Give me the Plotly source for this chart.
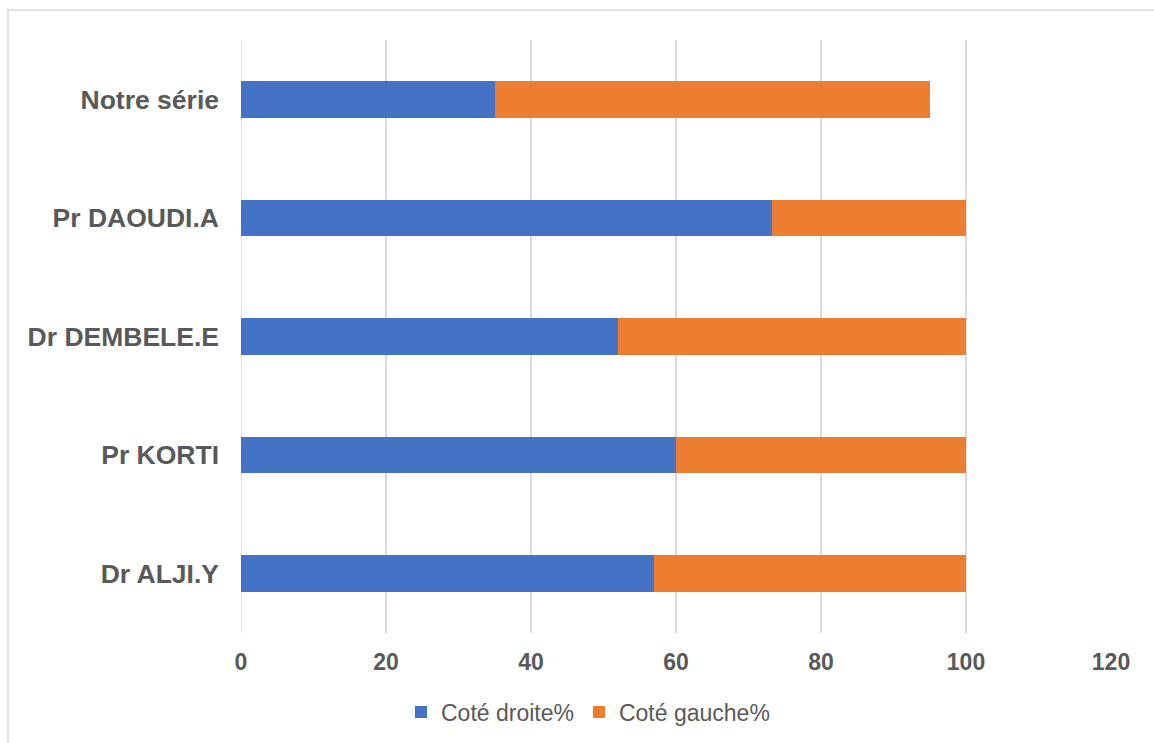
import plotly.graph_objects as go

categories = ["Notre série", "Pr DAOUDI.A", "Dr DEMBELE.E", "Pr KORTI", "Dr ALJI.Y"]
droite = [35, 73.3, 52, 60, 57]
gauche = [60, 26.7, 48, 40, 43]
x_ticks = [0, 20, 40, 60, 80, 100, 120]

BLUE = "#4472C4"
ORANGE = "#ED7D31"
TXT = "#595959"
GRID = "#D9D9D9"
FONT = "Arial, Liberation Sans, sans-serif"

fig = go.Figure()
fig.add_trace(go.Bar(y=categories, x=droite, orientation="h", name="Coté droite%",
                     marker=dict(color=BLUE, line=dict(width=0))))
fig.add_trace(go.Bar(y=categories, x=gauche, orientation="h", name="Coté gauche%",
                     marker=dict(color=ORANGE, line=dict(width=0))))

W, H = 1154, 743
L, R, T, B = 241, 43, 40, 110
pw, ph = W - L - R, H - T - B

fig.update_layout(
    width=W, height=H,
    barmode="stack", bargap=0.69,
    margin=dict(l=L, r=R, t=T, b=B, autoexpand=False),
    paper_bgcolor="white", plot_bgcolor="white",
    font=dict(family=FONT, color=TXT),
    xaxis=dict(range=[0, 120], tickvals=x_ticks, showgrid=True, gridcolor=GRID, gridwidth=1.5,
               zeroline=False, showline=False, ticks="",
               tickfont=dict(size=23, family=FONT, color=TXT, weight="bold"),
               ticklabelstandoff=13),
    yaxis=dict(autorange="reversed", showgrid=False, zeroline=False, showline=False, ticks="",
               tickfont=dict(size=26.5, family=FONT, color=TXT, weight="bold"),
               ticklabelstandoff=21),
    legend=dict(orientation="h", x=(588 - L) / pw, xanchor="center",
                y=(ph - (712 - T)) / ph, yanchor="middle",
                font=dict(size=23, family=FONT, color=TXT), itemwidth=30,
                traceorder="normal"),
    showlegend=True,
    shapes=[
        dict(type="line", xref="x", yref="paper", x0=0, x1=0, y0=0, y1=1,
             line=dict(color=GRID, width=1.5), layer="below"),
        dict(type="rect", xref="paper", yref="paper",
             x0=(8 - L) / pw, x1=(W + 10 - L) / pw,
             y0=(ph - (H + 10 - T)) / ph, y1=(ph - (10 - T)) / ph,
             line=dict(color="#D9D9D9", width=1.5), fillcolor="rgba(0,0,0,0)", layer="below"),
    ],
)

fig.write_html("out.html", config={"displayModeBar": False},
               post_script="document.body.style.margin='0';document.body.style.overflow='hidden';")
